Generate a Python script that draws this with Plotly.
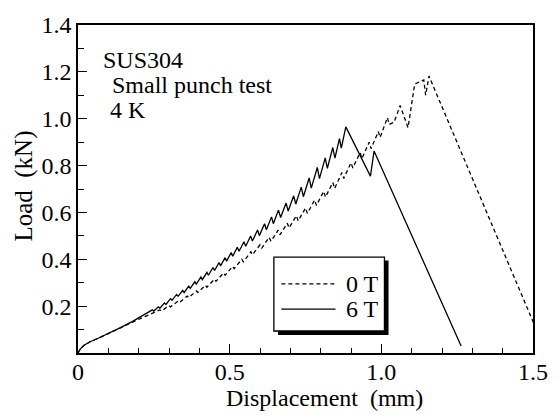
import plotly.graph_objects as go

# 6 T (solid) : displacement (mm), load (kN)
disp_6T = [0.000, 0.008, 0.020, 0.040, 0.070, 0.100, 0.140, 0.180, 0.210, 0.235,
           0.245, 0.250, 0.265, 0.270, 0.285, 0.290, 0.305, 0.310, 0.325, 0.330,
           0.345, 0.350, 0.365, 0.370, 0.385, 0.390, 0.405, 0.410, 0.425, 0.430,
           0.445, 0.450, 0.465, 0.470, 0.485, 0.490, 0.505, 0.510, 0.525, 0.531,
           0.547, 0.553, 0.569, 0.575, 0.592, 0.598, 0.615, 0.621, 0.638, 0.644,
           0.661, 0.668, 0.686, 0.693, 0.711, 0.718, 0.736, 0.743, 0.762, 0.769,
           0.789, 0.796, 0.815, 0.822, 0.840, 0.847, 0.862, 0.868, 0.883, 0.964,
           0.976, 1.263]
load_6T = [0.000, 0.018, 0.033, 0.048, 0.065, 0.082, 0.108, 0.135, 0.157, 0.176,
           0.184, 0.179, 0.197, 0.191, 0.214, 0.207, 0.232, 0.225, 0.250, 0.242,
           0.267, 0.258, 0.285, 0.276, 0.304, 0.294, 0.324, 0.313, 0.344, 0.332,
           0.365, 0.352, 0.386, 0.372, 0.407, 0.392, 0.429, 0.413, 0.451, 0.434,
           0.475, 0.456, 0.499, 0.478, 0.525, 0.501, 0.552, 0.526, 0.581, 0.552,
           0.610, 0.578, 0.640, 0.606, 0.671, 0.636, 0.708, 0.667, 0.747, 0.704,
           0.792, 0.744, 0.833, 0.788, 0.877, 0.832, 0.915, 0.874, 0.965, 0.755,
           0.862, 0.030]

# 0 T (dashed)
disp_0T = [0.000, 0.008, 0.020, 0.040, 0.070, 0.100, 0.140, 0.180, 0.210, 0.240,
           0.270, 0.275, 0.300, 0.305, 0.330, 0.335, 0.360, 0.365, 0.390, 0.395,
           0.420, 0.425, 0.450, 0.455, 0.480, 0.485, 0.510, 0.515, 0.540, 0.545,
           0.570, 0.575, 0.600, 0.606, 0.630, 0.636, 0.660, 0.666, 0.690, 0.696,
           0.720, 0.726, 0.750, 0.756, 0.780, 0.786, 0.810, 0.816, 0.840, 0.846,
           0.870, 0.876, 0.900, 0.906, 0.930, 0.936, 0.960, 0.966, 0.990, 0.996,
           1.020, 1.026, 1.042, 1.062, 1.088, 1.110, 1.125, 1.140, 1.146, 1.157,
           1.502]
load_0T = [0.000, 0.018, 0.033, 0.048, 0.065, 0.082, 0.107, 0.132, 0.150, 0.166,
           0.184, 0.179, 0.202, 0.197, 0.222, 0.216, 0.243, 0.236, 0.265, 0.258,
           0.289, 0.281, 0.315, 0.306, 0.342, 0.332, 0.370, 0.360, 0.400, 0.389,
           0.432, 0.419, 0.462, 0.448, 0.494, 0.477, 0.524, 0.505, 0.554, 0.534,
           0.586, 0.564, 0.619, 0.596, 0.653, 0.630, 0.690, 0.665, 0.728, 0.702,
           0.770, 0.745, 0.812, 0.790, 0.855, 0.830, 0.900, 0.872, 0.945, 0.920,
           1.005, 0.975, 0.985, 1.056, 0.962, 1.148, 1.155, 1.165, 1.100, 1.182,
           0.128]

x_tickvals = [0, 0.5, 1.0, 1.5]
x_ticktext = ["0", "0.5", "1.0", "1.5"]
y_tickvals = [0.2, 0.4, 0.6, 0.8, 1.0, 1.2, 1.4]
y_ticktext = ["0.2", "0.4", "0.6", "0.8", "1.0", "1.2", "1.4"]

FONT = "Liberation Serif, Times New Roman, Times, DejaVu Serif, serif"

fig = go.Figure()
fig.add_trace(go.Scatter(x=disp_0T, y=load_0T, mode="lines", name="0 T",
                         line=dict(color="black", width=1.3, dash="4px,3px"),
                         showlegend=False))
fig.add_trace(go.Scatter(x=disp_6T, y=load_6T, mode="lines", name="6 T",
                         line=dict(color="black", width=1.3),
                         showlegend=False))

axis_common = dict(showgrid=False, zeroline=False, showline=True, linecolor="black",
                   linewidth=1.5, mirror=True, ticks="inside", tickcolor="black",
                   tickwidth=1.2, ticklen=9,
                   tickfont=dict(family=FONT, size=24, color="black"))

fig.update_xaxes(range=[0, 1.5], tickvals=x_tickvals, ticktext=x_ticktext,
                 ticklabelstandoff=-4,
                 minor=dict(dtick=0.1, ticks="inside", ticklen=5, tickcolor="black", tickwidth=1),
                 **axis_common)
fig.update_yaxes(range=[0, 1.4], tickvals=y_tickvals, ticktext=y_ticktext,
                 minor=dict(dtick=0.1, ticks="inside", ticklen=6, tickcolor="black", tickwidth=1),
                 **axis_common)

ann_font = dict(family=FONT, size=24, color="black")
annotations = [
    dict(text="Displacement  (mm)", xref="paper", yref="paper", x=0.542, y=-0.138,
         xanchor="center", yanchor="middle", showarrow=False, font=dict(family=FONT, size=24, color="black")),
    dict(text="Load  (kN)", xref="paper", yref="paper", x=-0.119, y=0.51, textangle=-90,
         xanchor="center", yanchor="middle", showarrow=False, font=dict(family=FONT, size=25, color="black")),
    dict(text="SUS304", xref="paper", yref="paper", x=0.05, y=0.893,
         xanchor="left", yanchor="middle", showarrow=False, font=ann_font),
    dict(text="Small punch test", xref="paper", yref="paper", x=0.071, y=0.818,
         xanchor="left", yanchor="middle", showarrow=False, font=ann_font),
    dict(text="4 K", xref="paper", yref="paper", x=0.067, y=0.741,
         xanchor="left", yanchor="middle", showarrow=False, font=ann_font),
    dict(text="0 T", xref="paper", yref="paper", x=0.585, y=0.211,
         xanchor="left", yanchor="middle", showarrow=False, font=ann_font),
    dict(text="6 T", xref="paper", yref="paper", x=0.585, y=0.134,
         xanchor="left", yanchor="middle", showarrow=False, font=ann_font),
]

shapes = [
    # legend shadow
    dict(type="rect", xref="paper", yref="paper", x0=0.4395, x1=0.6825, y0=0.055, y1=0.282,
         fillcolor="black", line=dict(width=0), layer="above"),
    # legend box
    dict(type="rect", xref="paper", yref="paper", x0=0.4305, x1=0.6735, y0=0.067, y1=0.292,
         fillcolor="white", line=dict(color="black", width=1.3), layer="above"),
    dict(type="line", xref="paper", yref="paper", x0=0.447, x1=0.566, y0=0.211, y1=0.211,
         line=dict(color="black", width=1.3, dash="4px,3px"), layer="above"),
    dict(type="line", xref="paper", yref="paper", x0=0.447, x1=0.566, y0=0.134, y1=0.134,
         line=dict(color="black", width=1.3), layer="above"),
]

fig.update_layout(width=560, height=415, margin=dict(l=78, r=19, t=17, b=62),
                  plot_bgcolor="white", paper_bgcolor="white",
                  annotations=annotations, shapes=shapes,
                  font=dict(family=FONT, color="black"))

fig.write_html("out.html")
